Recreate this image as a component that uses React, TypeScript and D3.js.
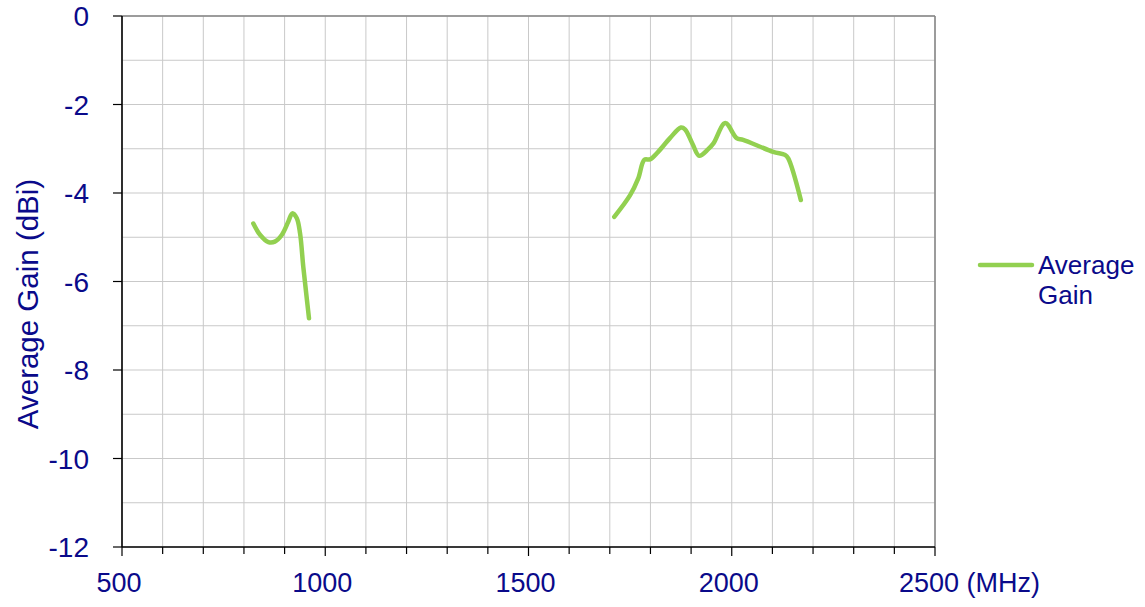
import React from "react";
import * as d3 from "d3";

const lowBandFreq = [823, 840, 860, 876, 893, 909, 919, 930, 938, 946, 954, 960];
const lowBandGain = [-4.69, -4.95, -5.11, -5.1, -4.95, -4.65, -4.46, -4.57, -4.91, -5.67, -6.34, -6.83];

const highBandFreq = [1711, 1750, 1770, 1785, 1799, 1819, 1848, 1875, 1885, 1903, 1920, 1942, 1955, 1984, 2012, 2028, 2102, 2131, 2139, 2170];
const highBandGain = [-4.54, -4.05, -3.67, -3.25, -3.24, -3.07, -2.76, -2.52, -2.56, -2.88, -3.16, -3.01, -2.88, -2.42, -2.76, -2.8, -3.07, -3.14, -3.22, -4.16];

const xTickLabels = [500, 1000, 1500, 2000, 2500];
const yTickLabels = [0, -2, -4, -6, -8, -10, -12];
const xUnit = "(MHz)";
const yTitle = "Average Gain (dBi)";
const seriesName = ["Average", "Gain"];

const W = 1145;
const H = 607;
const L = 122, R = 935, T = 16, B = 547;
const TXT = "#0a0a8a";
const GREEN = "#92D050";
const FONT = "'Liberation Sans', Arial, sans-serif";

export default function App() {
  const x = d3.scaleLinear().domain([500, 2500]).range([L, R]);
  const y = d3.scaleLinear().domain([-12, 0]).range([B, T]);
  const xMinor = d3.range(500, 2501, 100);
  const yMinor = d3.range(-12, 0.01, 1);
  const line = d3
    .line<[number, number]>()
    .x((d) => x(d[0]))
    .y((d) => y(d[1]))
    .curve(d3.curveCatmullRom.alpha(0.5));
  const low: [number, number][] = lowBandFreq.map((f, i) => [f, lowBandGain[i]]);
  const high: [number, number][] = highBandFreq.map((f, i) => [f, highBandGain[i]]);

  return (
    <svg width={W} height={H} style={{ position: "absolute", left: 0, top: 0, background: "#fff" }} fontFamily={FONT}>
      <rect x={0} y={0} width={W} height={H} fill="#fff" />
      {xMinor.map((v) => (
        <line key={"gx" + v} x1={x(v)} x2={x(v)} y1={T} y2={B} stroke="#c9c9c9" strokeWidth={1} />
      ))}
      {yMinor.map((v) => (
        <line key={"gy" + v} x1={L} x2={R} y1={y(v)} y2={y(v)} stroke="#c9c9c9" strokeWidth={1} />
      ))}
      <line x1={L} x2={R} y1={T} y2={T} stroke="#858585" strokeWidth={1.5} />
      <line x1={R} x2={R} y1={T} y2={B} stroke="#858585" strokeWidth={1.5} />
      {xMinor.map((v) => (
        <line key={"tx" + v} x1={x(v)} x2={x(v)} y1={B} y2={B + (v % 500 === 0 ? 9 : 7)} stroke="#000" strokeWidth={1.2} />
      ))}
      {yTickLabels.map((v) => (
        <line key={"ty" + v} x1={L - 9} x2={L} y1={y(v)} y2={y(v)} stroke="#000" strokeWidth={1.2} />
      ))}
      <line x1={L} x2={L} y1={T} y2={B} stroke="#000" strokeWidth={1.6} />
      <line x1={L} x2={R} y1={B} y2={B} stroke="#000" strokeWidth={1.6} />
      {yTickLabels.map((v) => (
        <text key={"ly" + v} x={89} y={y(v)} dy="0.36em" textAnchor="end" fontSize={28} fill={TXT}>
          {v}
        </text>
      ))}
      {xTickLabels.map((v, i) =>
        i === xTickLabels.length - 1 ? (
          <text key={"lx" + v} x={x(v) - 36} y={592} textAnchor="start" fontSize={27} fill={TXT}>
            {v + " " + xUnit}
          </text>
        ) : (
          <text key={"lx" + v} x={x(v) - 3} y={592} textAnchor="middle" fontSize={27} fill={TXT}>
            {v}
          </text>
        )
      )}
      <text transform={`translate(38,304) rotate(-90)`} textAnchor="middle" fontSize={29.5} fill={TXT}>
        {yTitle}
      </text>
      <path d={line(low) || ""} fill="none" stroke={GREEN} strokeWidth={4.5} strokeLinecap="round" strokeLinejoin="round" />
      <path d={line(high) || ""} fill="none" stroke={GREEN} strokeWidth={4.5} strokeLinecap="round" strokeLinejoin="round" />
      <line x1={980} x2={1032} y1={265} y2={265} stroke={GREEN} strokeWidth={4.5} strokeLinecap="round" />
      <text x={1038} y={274} fontSize={26} fill={TXT}>{seriesName[0]}</text>
      <text x={1038} y={304} fontSize={26} fill={TXT}>{seriesName[1]}</text>
    </svg>
  );
}
